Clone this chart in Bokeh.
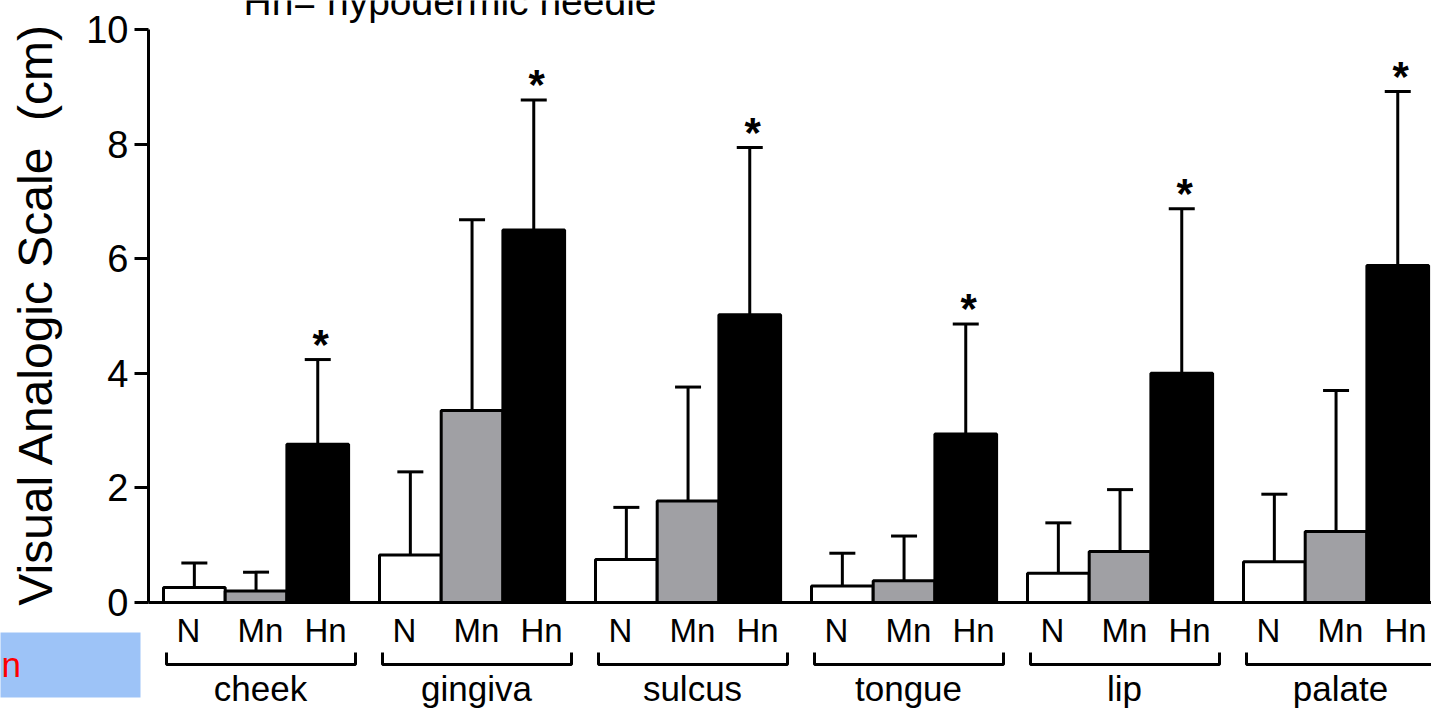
import numpy as np
from bokeh.plotting import figure
from bokeh.models import ColumnDataSource, FixedTicker, Range1d
from bokeh.core.properties import value
from bokeh.embed import file_html
from bokeh.resources import INLINE

# ---------------- data ----------------
groups = ["cheek", "gingiva", "sulcus", "tongue", "lip", "palate"]
needles = ["N", "Mn", "Hn"]
N_mean = [0.26, 0.83, 0.75, 0.29, 0.51, 0.71]
N_sd = [0.43, 1.45, 0.91, 0.57, 0.88, 1.18]
Mn_mean = [0.20, 3.35, 1.77, 0.38, 0.89, 1.24]
Mn_sd = [0.33, 3.33, 1.99, 0.78, 1.08, 2.46]
Hn_mean = [2.76, 6.50, 5.02, 2.94, 4.00, 5.88]
Hn_sd = [1.48, 2.27, 2.92, 1.92, 2.87, 3.04]
Hn_sig = ["*", "*", "*", "*", "*", "*"]
y_ticks = [0, 2, 4, 6, 8, 10]
y_label = "Visual Analogic Scale \u00a0(cm)"
note_text = "Hn= hypodermic needle"
side_text = "n"

# ---------------- layout ----------------
W, H = 1431, 709
FONT = "Liberation Sans"
axis_x = 148
px_per_unit = (602 - 29) / 10.0
y_top = 10 + 29 / px_per_unit
y_bot = -(H - 602) / px_per_unit
BASE_FIX = 0.36  # em shift so that the alphabetic baseline lands where wanted

def yv(py):  # page pixel row -> data value
    return (602 - py) / px_per_unit

group_step = 216.0
first_left = 163.0
bar_w = 61.7
cap_half = 13.0
fills = ["#ffffff", "#a0a0a4", "#000000"]

p = figure(width=W, height=H, output_backend="svg", toolbar_location=None,
           x_range=Range1d(0, W), y_range=Range1d(y_bot, y_top),
           x_axis_location=None, min_border_left=0, min_border_right=0,
           min_border_top=0, min_border_bottom=0)
p.outline_line_color = None
p.grid.visible = False
p.background_fill_color = "white"
p.border_fill_color = "white"

ax = p.yaxis[0]
ax.fixed_location = axis_x
ax.ticker = FixedTicker(ticks=y_ticks)
ax.bounds = (0, 10)
ax.axis_line_width = 3
ax.axis_line_color = "black"
ax.major_tick_line_width = 3
ax.major_tick_out = 14
ax.major_tick_in = 0
ax.minor_tick_line_color = None
ax.major_label_text_font = FONT
ax.major_label_text_font_size = "38px"
ax.major_label_text_color = "black"
ax.major_label_standoff = 6

# y axis title (drawn as rotated text)
lab_fs = 48
p.text(x=[52 - BASE_FIX * lab_fs], y=[yv(313.5)], text=[y_label], angle=np.pi / 2,
       text_align="center", text_baseline="alphabetic", text_font=value(FONT),
       text_font_size=f"{lab_fs}px", text_color="black")

gidx = np.arange(len(groups))
gleft = first_left + group_step * gidx
means = [N_mean, Mn_mean, Hn_mean]
sds = [N_sd, Mn_sd, Hn_sd]

ast_fs = 42
for j, nd in enumerate(needles):
    xc = gleft + (j + 0.5) * bar_w
    m = np.array(means[j])
    up = m + np.array(sds[j])
    src = ColumnDataSource(dict(x=xc, top=m, up=up,
                                x0=xc - cap_half, x1=xc + cap_half))
    p.segment(x0="x", y0="top", x1="x", y1="up", source=src,
              line_color="black", line_width=3)
    p.segment(x0="x0", y0="up", x1="x1", y1="up", source=src,
              line_color="black", line_width=3)
    p.vbar(x="x", top="top", bottom=0, width=bar_w, source=src,
           fill_color=fills[j], line_color="black", line_width=3)
    if nd == "Hn":
        src2 = ColumnDataSource(dict(x=xc + 3, y=up + (BASE_FIX * ast_fs) / px_per_unit,
                                     t=Hn_sig))
        p.text(x="x", y="y", text="t", source=src2, text_align="center",
               text_baseline="alphabetic", text_font=value(FONT),
               text_font_style="bold", text_font_size=f"{ast_fs}px",
               text_color="black")

# baseline of the bars
p.segment(x0=[axis_x], y0=[0], x1=[W + 5], y1=[0], line_color="black", line_width=3)

# cut-off note at top
p.text(x=[243], y=[yv(15 - BASE_FIX * 39)], text=[note_text], text_align="left",
       text_baseline="alphabetic", text_font=value(FONT), text_font_size="39px",
       text_color="black")

# blue box at lower left
p.quad(left=[-5], right=[140], top=[yv(632)], bottom=[yv(697)],
       fill_color="#9dc3f7", line_color=None)
p.text(x=[1], y=[yv(677 - BASE_FIX * 35)], text=[side_text], text_font=value(FONT),
       text_font_size="35px", text_color="#ff0000", text_baseline="alphabetic")

# needle labels
lab_off = [25, 97, 162]
lx, ly, lt = [], [], []
for i in gidx:
    for j, nd in enumerate(needles):
        lx.append(gleft[i] + lab_off[j]); ly.append(yv(642 - BASE_FIX * 33)); lt.append(nd)
p.text(x=lx, y=ly, text=lt, text_align="center", text_baseline="alphabetic",
       text_font=value(FONT), text_font_size="33px", text_color="black")

# brackets
xs, ys = [], []
for i in gidx:
    a, c = gleft[i] + 3, gleft[i] + 192
    xs.append([a, a, c, c]); ys.append([yv(652), yv(664), yv(664), yv(652)])
p.multi_line(xs=xs, ys=ys, line_color="black", line_width=3)

# group names
p.text(x=gleft + 97, y=[yv(701 - BASE_FIX * 35)] * len(groups), text=groups,
       text_align="center", text_baseline="alphabetic", text_font=value(FONT),
       text_font_size="35px", text_color="black")

open("out.html", "w").write(file_html(p, INLINE))
